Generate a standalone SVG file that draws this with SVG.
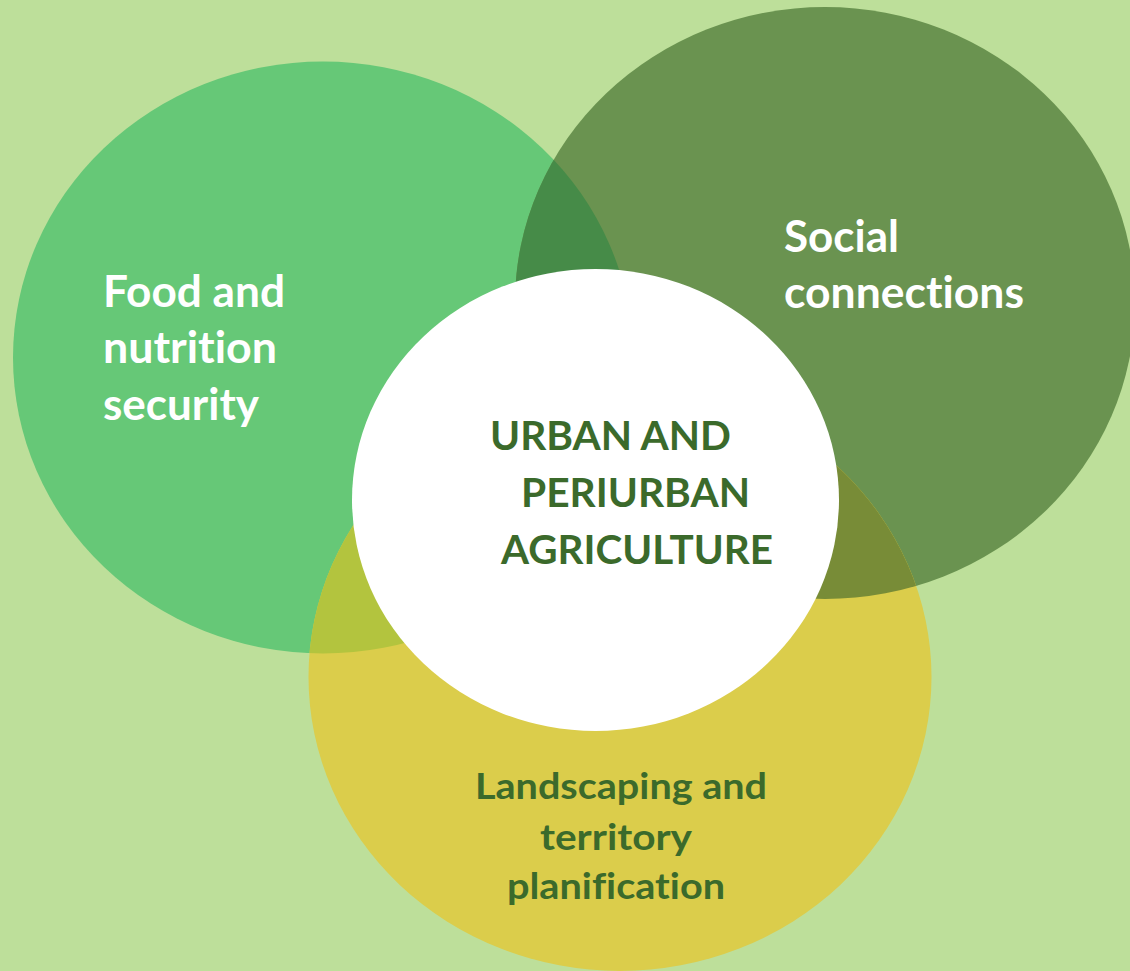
<svg xmlns="http://www.w3.org/2000/svg" width="1130" height="971" viewBox="0 0 1130 971">
  <style>
    .lbl { font-family: "Lato", "Open Sans", "Liberation Sans", sans-serif; font-weight: bold; font-variant-ligatures: none; font-feature-settings: "liga" 0, "clig" 0, "dlig" 0; }
    .w { fill: #FFFFFF; font-size: 44px; }
    .c { fill: #3B6A2B; font-size: 41px; }
    .y { fill: #3B6A2B; font-size: 37px; }
  </style>
  <defs>
    <clipPath id="clipGreen"><ellipse cx="323" cy="357.5" rx="310" ry="296"/></clipPath>
    <clipPath id="clipDark"><ellipse cx="825" cy="303" rx="310" ry="296"/></clipPath>
    <clipPath id="clipYellow"><ellipse cx="620" cy="677" rx="311.5" ry="294"/></clipPath>
  </defs>
  <rect x="0" y="0" width="1130" height="971" fill="#BDDF9A"/>

  <g id="node-food">
    <ellipse cx="323" cy="357.5" rx="310" ry="296" fill="#66C877"/>
  </g>
  <g id="node-social">
    <ellipse cx="825" cy="303" rx="310" ry="296" fill="#6A9350"/>
  </g>
  <g id="node-landscaping">
    <ellipse cx="620" cy="677" rx="311.5" ry="294" fill="#DBCD4B"/>
  </g>

  <g id="overlaps">
    <ellipse cx="825" cy="303" rx="310" ry="296" fill="#468B48" clip-path="url(#clipGreen)"/>
    <ellipse cx="620" cy="677" rx="311.5" ry="294" fill="#B3C43E" clip-path="url(#clipGreen)"/>
    <ellipse cx="620" cy="677" rx="311.5" ry="294" fill="#788C37" clip-path="url(#clipDark)"/>
  </g>

  <g id="node-center">
    <ellipse cx="595.5" cy="500" rx="243.5" ry="231" fill="#FFFFFF"/>
    <text class="lbl c" x="490" y="450" textLength="241" lengthAdjust="spacingAndGlyphs">URBAN AND</text>
    <text class="lbl c" x="521" y="507" textLength="229" lengthAdjust="spacingAndGlyphs">PERIURBAN</text>
    <text class="lbl c" x="501" y="564" textLength="272" lengthAdjust="spacingAndGlyphs">AGRICULTURE</text>
  </g>

  <g id="labels-food">
    <text class="lbl w" x="103" y="307" textLength="182" lengthAdjust="spacingAndGlyphs">Food and</text>
    <text class="lbl w" x="103" y="363" textLength="174" lengthAdjust="spacingAndGlyphs">nutrition</text>
    <text class="lbl w" x="103" y="420" textLength="156" lengthAdjust="spacingAndGlyphs">security</text>
  </g>
  <g id="labels-social">
    <text class="lbl w" x="784" y="252" textLength="115" lengthAdjust="spacingAndGlyphs">Social</text>
    <text class="lbl w" x="784" y="308" textLength="240" lengthAdjust="spacingAndGlyphs">connections</text>
  </g>
  <g id="labels-landscaping">
    <text class="lbl y" x="475" y="799" textLength="292" lengthAdjust="spacingAndGlyphs">Landscaping and</text>
    <text class="lbl y" x="540" y="850" textLength="152" lengthAdjust="spacingAndGlyphs">territory</text>
    <text class="lbl y" x="507" y="899" textLength="218" lengthAdjust="spacingAndGlyphs">planification</text>
  </g>
</svg>
